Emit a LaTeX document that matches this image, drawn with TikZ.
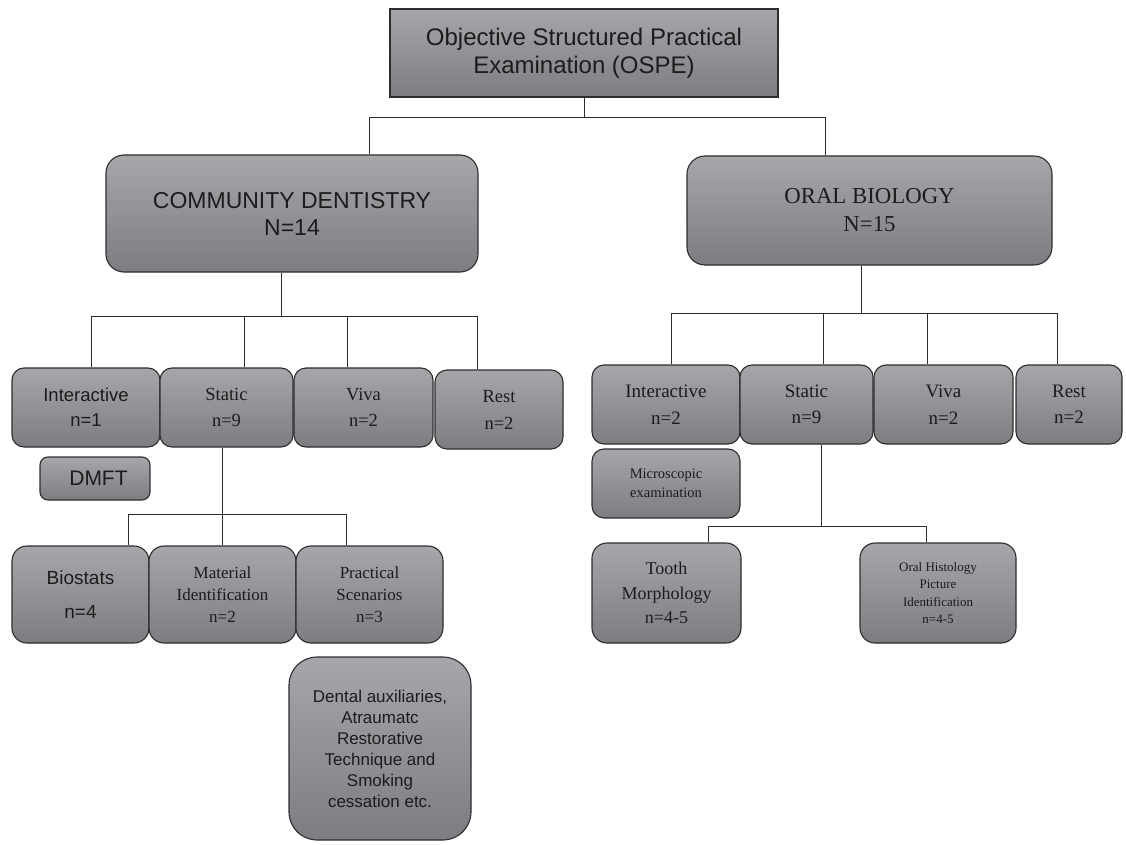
\documentclass[tikz,border=0pt]{standalone}
\usepackage{fontspec}
\setmainfont{Liberation Serif}
\setsansfont{Liberation Sans}
\definecolor{boxtop}{RGB}{166,167,171}
\definecolor{boxbot}{RGB}{124,125,129}
\definecolor{edge}{RGB}{45,45,45}
\definecolor{ink}{RGB}{28,28,28}
\newcommand\boxfont[2]{\fontsize{#1}{#2}\selectfont}

\tikzset{every picture/.style={line width=1pt}}
\tikzset{
  box/.style={draw=edge, line width=1.1pt, top color=boxtop, bottom color=boxbot,
    text=ink, align=center, inner sep=0pt},
  headbox/.style={box, rounded corners=18pt},
  catbox/.style={box, rounded corners=12pt, minimum height=79pt},
  subbox/.style={box, rounded corners=15pt},
  link/.style={draw=edge, line width=1pt}
}

\begin{document}
\begin{tikzpicture}[x=1pt,y=1pt,yscale=-1]
\useasboundingbox (0,0) rectangle (1126,845);

%Top box
\node [box, minimum width=388pt, minimum height=88pt, font={\sffamily\boxfont{24}{28}}] (ospe) at (584,53) {Objective Structured Practical\\Examination (OSPE)};

%Department boxes
\node [headbox, minimum width=372pt, minimum height=117pt, font={\sffamily\boxfont{23}{27}}] (cd) at (292,213.5) {COMMUNITY DENTISTRY\\N=14};
\node [headbox, minimum width=365pt, minimum height=109pt, font={\boxfont{22.8}{28}}] (ob) at (869.5,210.5) {ORAL BIOLOGY\\N=15};

%Community dentistry, second row
\node [catbox, minimum width=148pt, font={\sffamily\boxfont{18.5}{25}}] (cdint) at (86,407.5) {Interactive\\n=1};
\node [catbox, minimum width=133pt, font={\boxfont{18.5}{26}}] (cdsta) at (226.5,407.5) {Static\\n=9};
\node [catbox, minimum width=139pt, font={\boxfont{18.5}{26}}] (cdviv) at (363.5,407.5) {Viva\\n=2};
\node [catbox, minimum width=128pt, font={\boxfont{18.5}{27}}] (cdres) at (499,409.5) {Rest\\n=2};
\node [box, rounded corners=8pt, minimum width=110pt, minimum height=43pt, font={\sffamily\boxfont{21}{25}}] (dmft) at (95,478.5) {\hspace*{7pt}DMFT};

%Community dentistry, static parts
\node [subbox, minimum width=137pt, minimum height=97pt, font={\sffamily\boxfont{19}{22}}] (bio) at (80.5,594.5) {Biostats\\[12pt]n=4};
\node [subbox, minimum width=147pt, minimum height=97pt, font={\boxfont{17}{22}}] (mat) at (222.5,594.5) {Material\\Identification\\n=2};
\node [subbox, minimum width=147pt, minimum height=97pt, font={\boxfont{17}{22}}] (pra) at (369.5,594.5) {Practical\\Scenarios\\n=3};
\node [box, rounded corners=28pt, minimum width=182pt, minimum height=183pt, font={\sffamily\boxfont{17}{21}}] (dar) at (380,748.5) {Dental auxiliaries,\\Atraumatc\\Restorative\\Technique and\\Smoking\\cessation etc.};

%Oral biology, second row
\node [catbox, minimum width=148pt, font={\boxfont{19}{26.5}}] (obint) at (666,404.5) {Interactive\\n=2};
\node [catbox, minimum width=133pt, font={\boxfont{19}{26.5}}] (obsta) at (806.5,404.5) {Static\\n=9};
\node [catbox, minimum width=139pt, font={\boxfont{19}{26.5}}] (obviv) at (943.5,404.5) {Viva\\n=2};
\node [catbox, minimum width=106pt, font={\boxfont{19}{26.5}}] (obres) at (1069,404.5) {Rest\\n=2};
\node [box, rounded corners=12pt, minimum width=148pt, minimum height=69pt, font={\boxfont{14.5}{18.5}}] (mic) at (666,483.5) {Microscopic\\examination};

%Oral biology, static parts
\node [subbox, minimum width=149pt, minimum height=100pt, font={\boxfont{18}{24.5}}] (too) at (666.5,593) {Tooth\\Morphology\\n=4-5};
\node [subbox, minimum width=156pt, minimum height=100pt, font={\boxfont{13}{17.5}}] (his) at (938,593) {Oral Histology\\Picture\\Identification\\n=4-5};

%Bus points
\coordinate (b0l) at (369,118);
\coordinate (b0r) at (825,118);
\coordinate (b1) at (281,316);
\coordinate (b1a) at (91,316);
\coordinate (b1b) at (244,316);
\coordinate (b1c) at (347,316);
\coordinate (b1d) at (477,316);
\coordinate (b2) at (222,514);
\coordinate (b2a) at (128,514);
\coordinate (b2c) at (346,514);
\coordinate (b3) at (861,313);
\coordinate (b3a) at (671,313);
\coordinate (b3b) at (823,313);
\coordinate (b3c) at (927,313);
\coordinate (b3d) at (1057,313);
\coordinate (b4) at (821,526);
\coordinate (b4a) at (708,526);
\coordinate (b4c) at (926,526);

%Connectors
\draw [link] (ospe.south) -- (ospe.south |- b0l);
\draw [link] (b0l |- cd.north) -- (b0l) -- (b0r) -- (b0r |- ob.north);

\draw [link] (b1 |- cd.south) -- (b1);
\draw [link] (b1a |- cdint.north) -- (b1a) -- (b1d) -- (b1d |- cdres.north);
\draw [link] (b1b) -- (b1b |- cdsta.north);
\draw [link] (b1c) -- (b1c |- cdviv.north);

\draw [link] (b2 |- cdsta.south) -- (b2 |- mat.north);
\draw [link] (b2a |- bio.north) -- (b2a) -- (b2c) -- (b2c |- pra.north);

\draw [link] (b3 |- ob.south) -- (b3);
\draw [link] (b3a |- obint.north) -- (b3a) -- (b3d) -- (b3d |- obres.north);
\draw [link] (b3b) -- (b3b |- obsta.north);
\draw [link] (b3c) -- (b3c |- obviv.north);

\draw [link] (b4 |- obsta.south) -- (b4);
\draw [link] (b4a |- too.north) -- (b4a) -- (b4c) -- (b4c |- his.north);

\end{tikzpicture}
\end{document}
